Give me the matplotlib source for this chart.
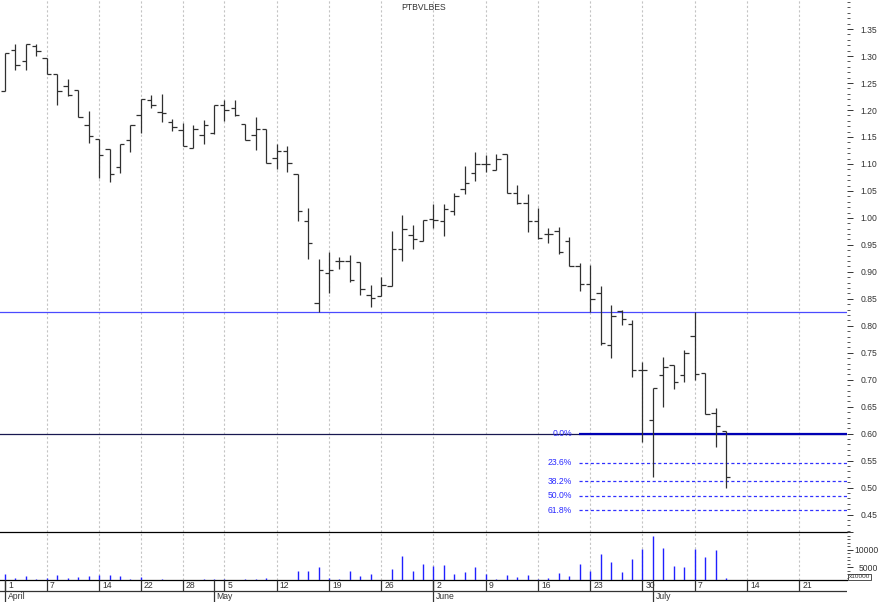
import matplotlib

matplotlib.use("Agg")
import matplotlib.pyplot as plt
from matplotlib.ticker import MultipleLocator, FixedLocator

plt.rcParams["font.family"] = ["Liberation Sans", "DejaVu Sans"]

TITLE = "PTBVLBES"

# daily bars, 1 April .. 10 July (trading days only)
OPEN = [1.235, 1.311, 1.291, 1.319, 1.296, 1.266, 1.244, 1.237, 1.173, 1.147,
        1.128, 1.094, 1.145, 1.190, 1.219, 1.196, 1.177, 1.163, 1.130, 1.153,
        1.158, 1.210, 1.204, 1.174, 1.154, 1.164, 1.111, 1.124, 1.082, 0.994,
        0.842, 0.898, 0.921, 0.921, 0.919, 0.858, 0.855, 0.873, 0.943, 0.969,
        0.957, 0.998, 0.994, 1.012, 1.054, 1.084, 1.100, 1.089, 1.119, 1.047,
        1.027, 0.995, 0.971, 0.975, 0.958, 0.911, 0.878, 0.860, 0.765, 0.827,
        0.804, 0.719, 0.625, 0.708, 0.728, 0.708, 0.781, 0.713, 0.639, 0.605]
HIGH = [1.305, 1.322, 1.322, 1.322, 1.296, 1.266, 1.258, 1.237, 1.198, 1.147,
        1.128, 1.137, 1.173, 1.221, 1.228, 1.229, 1.184, 1.176, 1.173, 1.182,
        1.210, 1.219, 1.218, 1.174, 1.187, 1.164, 1.137, 1.133, 1.082, 1.019,
        0.923, 0.937, 0.927, 0.931, 0.919, 0.876, 0.890, 0.975, 1.005, 0.986,
        0.997, 1.026, 1.026, 1.047, 1.097, 1.122, 1.116, 1.119, 1.119, 1.061,
        1.045, 1.018, 0.982, 0.983, 0.964, 0.916, 0.912, 0.873, 0.838, 0.829,
        0.811, 0.733, 0.685, 0.742, 0.728, 0.756, 0.826, 0.713, 0.648, 0.605]
LOW = [1.235, 1.274, 1.274, 1.301, 1.266, 1.210, 1.226, 1.187, 1.139, 1.074,
       1.066, 1.084, 1.123, 1.158, 1.203, 1.177, 1.161, 1.133, 1.130, 1.137,
       1.156, 1.179, 1.188, 1.145, 1.126, 1.101, 1.091, 1.085, 0.994, 0.924,
       0.826, 0.861, 0.906, 0.882, 0.858, 0.834, 0.855, 0.873, 0.920, 0.942,
       0.957, 0.982, 0.966, 1.006, 1.045, 1.068, 1.086, 1.089, 1.047, 1.026,
       0.974, 0.961, 0.954, 0.934, 0.911, 0.864, 0.826, 0.764, 0.741, 0.801,
       0.706, 0.585, 0.520, 0.650, 0.682, 0.695, 0.699, 0.636, 0.576, 0.500]
CLOSE = [1.305, 1.284, 1.322, 1.309, 1.266, 1.235, 1.227, 1.187, 1.151, 1.116,
         1.081, 1.137, 1.173, 1.221, 1.210, 1.194, 1.168, 1.133, 1.165, 1.173,
         1.210, 1.200, 1.190, 1.145, 1.164, 1.101, 1.124, 1.101, 1.012, 0.954,
         0.903, 0.904, 0.921, 0.884, 0.868, 0.852, 0.875, 0.943, 0.979, 0.961,
         0.997, 0.997, 1.017, 1.040, 1.064, 1.100, 1.100, 1.110, 1.047, 1.027,
         0.995, 0.963, 0.971, 0.937, 0.911, 0.878, 0.850, 0.769, 0.818, 0.813,
         0.719, 0.719, 0.685, 0.723, 0.695, 0.750, 0.711, 0.636, 0.614, 0.520]
VOLUME = [3070, 1910, 2590, 1720, 1910, 2780, 1910, 2200, 2400, 2880,
          2680, 2400, 1720, 2200, 1430, 1620, 1250, 1250, 1340, 1530,
          1620, 1530, 1340, 1720, 1720, 1910, 1430, 1300, 3840, 4030,
          5000, 1910, 1720, 3840, 2590, 3070, 1430, 4610, 8270, 3840,
          6050, 5280, 5770, 3070, 3650, 5090, 3070, 1620, 2780, 2200,
          2780, 1720, 1910, 3360, 2490, 6000, 3840, 8650, 6540, 3650,
          7210, 10290, 13950, 10580, 5480, 5190, 10100, 7880, 10000, 1910]

WEEK_TICKS = [0, 4, 9, 13, 17, 21, 26, 31, 36, 41, 46, 51, 56, 61, 66, 71, 76]
WEEK_LABELS = ["1", "7", "14", "22", "28", "5", "12", "19", "26",
               "2", "9", "16", "23", "30", "7", "14", "21"]
MONTH_TICKS = [0, 20, 41, 62]
MONTH_LABELS = ["April", "May", "June", "July"]

RESISTANCE = 0.826
FIB_BASE = 0.60
FIB_HIGH = 0.83
FIB_RATIOS = [0.0, 0.236, 0.382, 0.5, 0.618]
FIB_LABELS = ["0.0%", "23.6%", "38.2%", "50.0%", "61.8%"]
FIB_START = 54.9

W, H = 880, 602
XLIM = (-0.48, 80.57)
GRID = dict(color="#c4c4c4", lw=0.8, ls=(0, (2, 2)), zorder=0)
FS = 6.2


def main():
    fig = plt.figure(figsize=(W / 100, H / 100), dpi=100)
    ax = fig.add_axes([0, 70 / H, 847 / W, 532 / H])
    vax = fig.add_axes([0, 21.7 / H, 847 / W, 48.3 / H])
    dax = fig.add_axes([0, 0, 847 / W, 21.7 / H])
    for a in (ax, vax, dax):
        a.set_xlim(*XLIM)
        a.set_facecolor("none")
        for s in a.spines.values():
            s.set_visible(False)
        a.set_xticks([])

    # price pane
    idx = list(range(len(OPEN)))
    bar_kw = dict(color="#303030", lw=0.9, zorder=3)
    ax.vlines(idx, LOW, HIGH, **bar_kw)
    ax.hlines(OPEN, [i - 0.42 for i in idx], idx, **bar_kw)
    ax.hlines(CLOSE, idx, [i + 0.42 for i in idx], **bar_kw)
    for t in WEEK_TICKS[1:]:
        ax.axvline(t, **GRID)
    ax.axhline(RESISTANCE, color="#4a4aff", lw=0.9, zorder=2)
    ax.axhline(FIB_BASE, color="#181850", lw=0.9, zorder=2)
    rng = FIB_HIGH - FIB_BASE
    for r, lab in zip(FIB_RATIOS, FIB_LABELS):
        lvl = FIB_BASE - r * rng
        if r == 0:
            ax.hlines(lvl, FIB_START, XLIM[1], color="#0000b4", lw=1.6, zorder=2)
        else:
            ax.hlines(lvl, FIB_START, XLIM[1], color="#3030ff", lw=0.9,
                      ls=(0, (2.5, 2)), zorder=2)
        ax.text(FIB_START - 0.65, lvl, lab, color="#2a2aff", fontsize=FS,
                ha="right", va="center")
    ax.set_ylim(0.4178, 1.4039)
    ax.spines["bottom"].set_visible(True)
    ax.spines["bottom"].set_linewidth(0.9)
    ax.yaxis.tick_right()
    ax.yaxis.set_major_locator(FixedLocator([0.45 + 0.05 * k for k in range(19)]))
    ax.yaxis.set_minor_locator(MultipleLocator(0.01))
    ax.yaxis.set_major_formatter(lambda v, p: f"{v:.2f}")
    ax.tick_params(axis="y", which="major", length=4.5, width=0.7,
                   labelsize=FS, pad=5.5, colors="#333333")
    ax.tick_params(axis="y", which="minor", length=1.8, width=0.7,
                   colors="#555555")
    ax.text(0.5, 1 - 7.5 / 532, TITLE, transform=ax.transAxes, fontsize=FS,
            ha="center", va="center", color="#333333")

    # volume pane
    vax.vlines(idx, 0, VOLUME, color="#2020ff", lw=1.0, zorder=3)
    for t in WEEK_TICKS[1:]:
        vax.axvline(t, **GRID)
    vax.set_ylim(1240, 15100)
    vax.spines["bottom"].set_visible(True)
    vax.spines["bottom"].set_linewidth(0.9)
    vax.yaxis.tick_right()
    vax.yaxis.set_major_locator(FixedLocator([5000, 10000, 15000]))
    vax.yaxis.set_minor_locator(MultipleLocator(1000))
    vax.yaxis.set_major_formatter(lambda v, p: f"{v:.0f}" if v < 15000 else "")
    vax.tick_params(axis="y", which="major", length=4.5, width=0.7,
                    labelsize=FS, pad=18, colors="#333333")
    vax.tick_params(axis="y", which="minor", length=1.8, width=0.7,
                    colors="#555555")
    for lbl in vax.get_yticklabels():
        lbl.set_horizontalalignment("right")
    fig.text(848.5 / W, (H - 577) / H, "x10000", fontsize=4.6, ha="left",
             va="center", color="#333333",
             bbox=dict(boxstyle="square,pad=0.12", fc="white", ec="#333333",
                       lw=0.6))

    # date rows
    dax.set_ylim(0, 1)
    sep = 0.507
    dax.axhline(sep, color="#333333", lw=0.9)
    dax.vlines(WEEK_TICKS, sep, 1, color="#333333", lw=0.9)
    dax.vlines(MONTH_TICKS, 0, 1, color="#333333", lw=0.9)
    for t, lab in zip(WEEK_TICKS, WEEK_LABELS):
        dax.text(t + 0.3, (1 + sep) / 2, lab, fontsize=FS, ha="left",
                 va="center", color="#333333")
    for t, lab in zip(MONTH_TICKS, MONTH_LABELS):
        dax.text(t + 0.25, sep / 2, lab, fontsize=FS, ha="left",
                 va="center", color="#333333")
    dax.set_yticks([])

    fig.savefig("out.png", dpi=100)
    plt.close(fig)


if __name__ == "__main__":
    main()
